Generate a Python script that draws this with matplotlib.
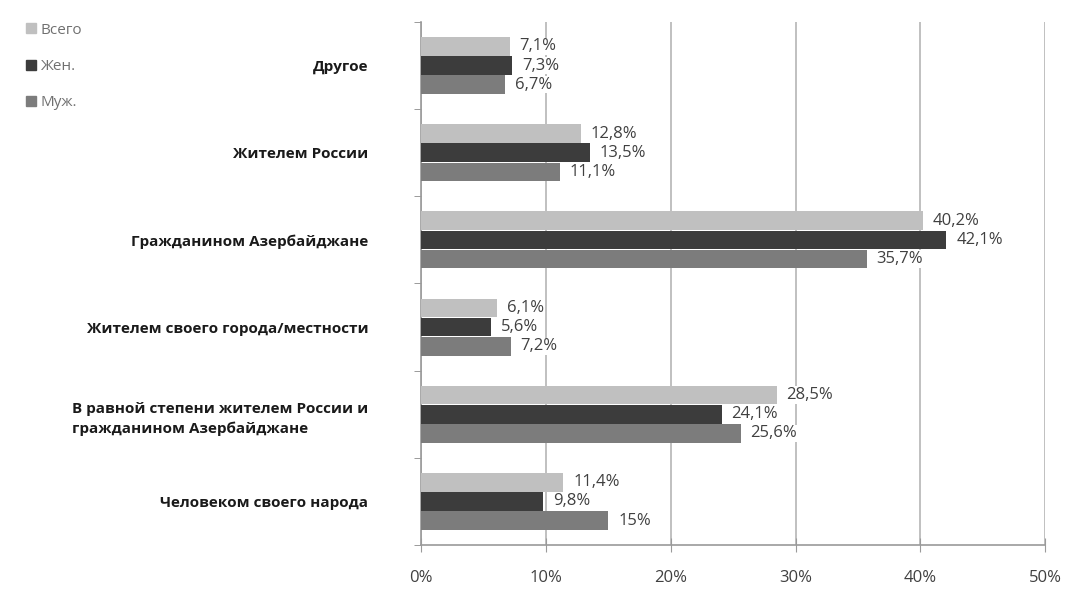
import matplotlib.pyplot as plt
from matplotlib.lines import Line2D
import numpy as np

plt.rcParams['font.family'] = ['Open Sans', 'DejaVu Sans']

categories = ['Другое', 'Жителем России', 'Гражданином Азербайджане',
              'Жителем своего города/местности',
              'В равной степени жителем России и\nгражданином Азербайджане',
              'Человеком своего народа']
series_names = ['Всего', 'Жен.', 'Муж.']
total = [7.1, 12.8, 40.2, 6.1, 28.5, 11.4]
women = [7.3, 13.5, 42.1, 5.6, 24.1, 9.8]
men = [6.7, 11.1, 35.7, 7.2, 25.6, 15]
x_ticks = [0, 10, 20, 30, 40, 50]

colors = ['#c0c0c0', '#3c3c3c', '#7c7c7c']
series = [total, women, men]


def fmt(v):
    s = ('%.1f' % v).rstrip('0').rstrip('.')
    return s.replace('.', ',') + '%'


fig = plt.figure(figsize=(10.69, 5.90), dpi=100)
ax = fig.add_axes([0.394, 0.0763, 0.5836, 0.8864])

y = np.arange(len(categories))
h = 0.215
for k, (vals, col) in enumerate(zip(series, colors)):
    pos = y + (k - 1) * (h + 0.005)
    ax.barh(pos, vals, height=h, color=col, zorder=3)
    for p, v in zip(pos, vals):
        ax.annotate(fmt(v), (v, p), xytext=(7, 0), textcoords='offset points',
                    ha='left', va='center', fontsize=12, color='#404040', zorder=4,
                    bbox=dict(facecolor='white', edgecolor='none', pad=0.5))

ax.set_xlim(0, 50)
ax.set_ylim(len(categories) - 0.5, -0.5)
ax.set_xticks(x_ticks)
ax.set_xticklabels(['%d%%' % t for t in x_ticks], fontsize=12, color='#404040')
ax.set_yticks(y)
ax.set_yticklabels(categories, fontsize=11, fontweight='bold', color='#1a1a1a',
                   multialignment='left', linespacing=1.5)
ax.set_yticks(np.arange(len(categories) + 1) - 0.5, minor=True)
ax.tick_params(axis='y', which='major', length=0, pad=38)
ax.tick_params(axis='y', which='minor', length=5, color='#8a8a8a')
ax.tick_params(axis='x', length=10, direction='inout', color='#9a9a9a', pad=13)

ax.grid(axis='x', color='#b5b5b5', linewidth=1.2, zorder=0)
for s in ['top', 'right']:
    ax.spines[s].set_visible(False)
for s in ['left', 'bottom']:
    ax.spines[s].set_color('#9a9a9a')
    ax.spines[s].set_linewidth(1.2)

handles = [Line2D([], [], marker='s', linestyle='none', markersize=7,
                  markerfacecolor=c, markeredgecolor=c) for c in colors]
fig.legend(handles, series_names, loc='upper left', bbox_to_anchor=(0.01, 0.985),
           frameon=False, fontsize=11, labelspacing=1.4, handletextpad=0.25,
           handlelength=0.8, labelcolor='#707070')

fig.savefig('out.png', dpi=100)
